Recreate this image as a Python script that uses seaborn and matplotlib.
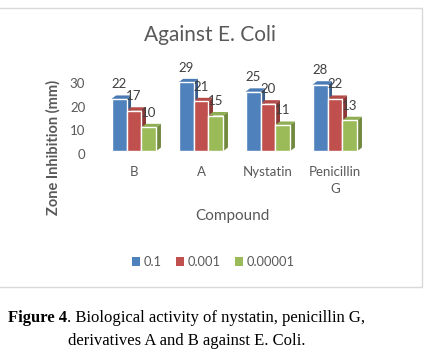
import numpy as np
import pandas as pd
import seaborn as sns
import matplotlib.pyplot as plt
from matplotlib.patches import Polygon, Rectangle, Patch
from matplotlib.transforms import ScaledTranslation

compounds = ["B", "A", "Nystatin", "Penicillin\nG"]
conc = ["0.1", "0.001", "0.00001"]
v_01 = [22, 29, 25, 28]
v_0001 = [17, 21, 20, 22]
v_000001 = [10, 15, 11, 13]

front = ["#4F81BD", "#C0504D", "#9BBB59"]
side = ["#385D8A", "#8C3836", "#71893F"]
top = ["#4A7AB3", "#B34B48", "#8FAD52"]

df = pd.DataFrame({
    "Compound": compounds * 3,
    "Conc": [conc[0]] * 4 + [conc[1]] * 4 + [conc[2]] * 4,
    "Zone": v_01 + v_0001 + v_000001,
})

sns.set_theme(style="white")
plt.rcParams["font.family"] = ["Lato", "DejaVu Sans"]
grey = "#595959"

fig = plt.figure(figsize=(4.36, 3.51), dpi=100)
W, H = 436, 351
ax = fig.add_axes([100.5 / W, 1 - 151 / H, 268 / W, 71 / H])

sns.barplot(data=df, x="Compound", y="Zone", hue="Conc", palette=front,
            width=0.67, saturation=1, ax=ax, legend=False, zorder=2)
ax.set_ylim(0, 30)
ax.set_xlim(-0.5, 3.5)
ax.set_yticks([0, 10, 20, 30])
for s in ax.spines.values():
    s.set_visible(False)
ax.set_xlabel("")
ax.set_ylabel("")
ax.tick_params(axis="y", length=0, pad=11, labelsize=9.5, labelcolor=grey)
ax.tick_params(axis="x", length=0, pad=11, labelsize=9.5, labelcolor=grey)
for lab in ax.get_xticklabels():
    lab.set_linespacing(1.5)
    lab.set_verticalalignment("top")
for lab in ax.get_yticklabels():
    lab.set_transform(lab.get_transform() + ScaledTranslation(0, -3 / 100, fig.dpi_scale_trans))

# fake the 3D depth of each column
fig.canvas.draw()
dx, dy = 4.5, 3.5
inv = ax.transData.inverted()
for i, cont in enumerate(ax.containers):
    for bar, val in zip(cont, cont.datavalues):
        (x0, y0), (x1, y1) = ax.transData.transform([(bar.get_x(), 0), (bar.get_x() + bar.get_width(), bar.get_height())])
        sp = inv.transform([(x1, y0), (x1 + dx, y0 + dy), (x1 + dx, y1 + dy), (x1, y1)])
        tp = inv.transform([(x0, y1), (x0 + dx, y1 + dy), (x1 + dx, y1 + dy), (x1, y1)])
        ax.add_patch(Polygon(sp, closed=True, fc=side[i], ec="none", zorder=1, clip_on=False))
        ax.add_patch(Polygon(tp, closed=True, fc=top[i], ec="none", zorder=1, clip_on=False))
        bar.set_clip_on(False)
        ax.annotate(f"{val:g}", (bar.get_x() + bar.get_width() / 2, bar.get_height()),
                    xytext=(0, 10.5), textcoords="offset points", ha="center", va="center",
                    fontsize=9.5, color="#404040", zorder=5, annotation_clip=False)

fig.text(232 / W, 1 - 216 / H, "Compound", ha="center", va="center", fontsize=11, color=grey)
fig.text(53 / W, 1 - 147 / H, "Zone Inhibition (mm)", ha="center", va="center",
         rotation=90, fontsize=10.5, fontweight="bold", color=grey)
fig.text(210 / W, 1 - 35 / H, "Against E. Coli", ha="center", va="center", fontsize=15, color=grey)

handles = [Patch(fc=c, ec="none") for c in front]
fig.legend(handles, conc, loc="center", bbox_to_anchor=(213 / W, 1 - 262 / H), ncol=3,
           frameon=False, fontsize=9.3, handlelength=0.65, handleheight=0.65,
           handletextpad=0.25, columnspacing=1.1, labelcolor=grey)

fig.patches.append(Rectangle((-2 / W, 1 - 287 / H), 424 / W, 279 / H, transform=fig.transFigure,
                             fill=False, ec="#D9D9D9", lw=1))

# caption with bold figure number
serif = ["Liberation Serif", "DejaVu Serif"]
t1 = fig.text(8 / W, 1 - 318 / H, "Figure 4", ha="left", va="center", fontsize=12,
              fontweight="bold", family=serif, color="black")
fig.canvas.draw()
bb = t1.get_window_extent()
fig.text(bb.x1 / W, 1 - 318 / H, ". Biological activity of nystatin, penicillin G,", ha="left",
         va="center", fontsize=12, family=serif, color="black")
fig.text(187 / W, 1 - 341 / H, "derivatives A and B against E. Coli.", ha="center", va="center",
         fontsize=12, family=serif, color="black")

fig.savefig("out.png", dpi=100, facecolor="white")
